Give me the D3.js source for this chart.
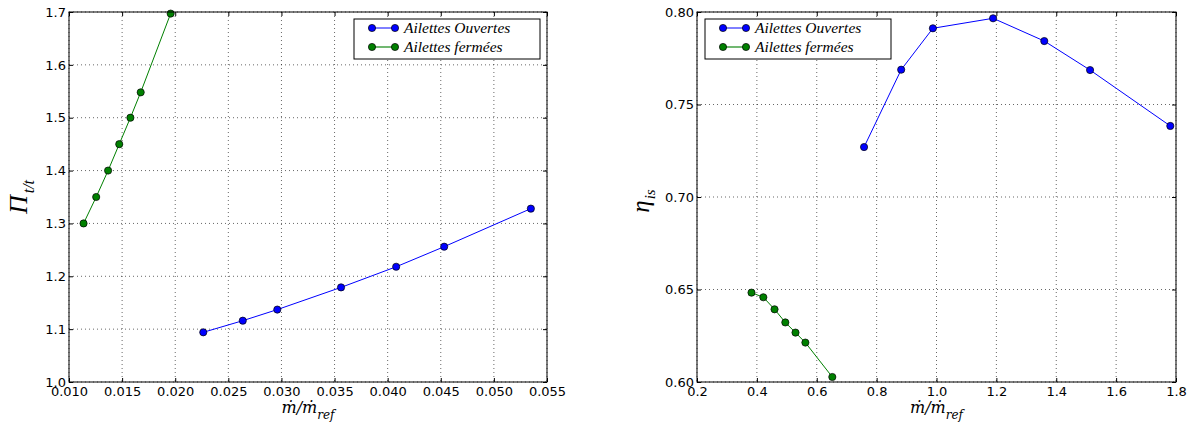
<!DOCTYPE html>
<html><head><meta charset="utf-8">
<script src="https://d3js.org/d3.v7.min.js"></script>
<style>body{margin:0;background:#fff}svg{display:block}</style>
</head><body><svg id="c" width="1195" height="429"></svg>
<script>
// Left panel: pressure ratio vs mass flow
const leftOpenX = [0.02264, 0.02636, 0.02961, 0.03561, 0.0408, 0.04532, 0.05348];
const leftOpenY = [1.094, 1.116, 1.137, 1.179, 1.218, 1.256, 1.328];
const leftClosedX = [0.01137, 0.01256, 0.01368, 0.01473, 0.01578, 0.01675, 0.01957];
const leftClosedY = [1.30, 1.35, 1.40, 1.45, 1.50, 1.548, 1.697];
const leftXTicks = [0.010, 0.015, 0.020, 0.025, 0.030, 0.035, 0.040, 0.045, 0.050, 0.055];
const leftYTicks = [1.0, 1.1, 1.2, 1.3, 1.4, 1.5, 1.6, 1.7];
// Right panel: isentropic efficiency vs mass flow
const rightOpenX = [0.758, 0.882, 0.988, 1.189, 1.360, 1.513, 1.781];
const rightOpenY = [0.727, 0.7688, 0.7912, 0.7966, 0.7843, 0.7686, 0.7384];
const rightClosedX = [0.382, 0.4216, 0.459, 0.495, 0.529, 0.562, 0.652];
const rightClosedY = [0.6483, 0.6458, 0.6393, 0.6322, 0.6267, 0.6213, 0.6027];
const rightXTicks = [0.2, 0.4, 0.6, 0.8, 1.0, 1.2, 1.4, 1.6, 1.8];
const rightYTicks = [0.60, 0.65, 0.70, 0.75, 0.80];
const seriesNames = ["Ailettes Ouvertes", "Ailettes fermées"];
const seriesColors = ["#0000ff", "#008000"];

const svg = d3.select("#c");
const plotTop = 12, plotBottom = 382;

function panel(o) {
  const g = svg.append("g");
  const x = d3.scaleLinear().domain(o.xd).range([o.x0, o.x1]);
  const y = d3.scaleLinear().domain(o.yd).range([plotBottom, plotTop]);
  // grid
  g.selectAll(".gx").data(o.xt).enter().append("line")
    .attr("x1", d => x(d)).attr("x2", d => x(d)).attr("y1", plotTop).attr("y2", plotBottom)
    .attr("stroke", "#000").attr("stroke-width", 0.6).attr("stroke-dasharray", "1,3");
  g.selectAll(".gy").data(o.yt).enter().append("line")
    .attr("y1", d => y(d)).attr("y2", d => y(d)).attr("x1", o.x0).attr("x2", o.x1)
    .attr("stroke", "#000").attr("stroke-width", 0.6).attr("stroke-dasharray", "1,3");
  // axes (inner ticks on all sides)
  const tick = 4;
  const axB = d3.axisBottom(x).tickValues(o.xt).tickFormat(o.xf).tickSizeInner(-tick).tickSizeOuter(0).tickPadding(5);
  const axT = d3.axisTop(x).tickValues(o.xt).tickFormat("").tickSizeInner(-tick).tickSizeOuter(0);
  const axL = d3.axisLeft(y).tickValues(o.yt).tickFormat(o.yf).tickSizeInner(-tick).tickSizeOuter(0).tickPadding(3);
  const axR = d3.axisRight(y).tickValues(o.yt).tickFormat("").tickSizeInner(-tick).tickSizeOuter(0);
  const style = s => { s.select(".domain").remove(); s.selectAll("text").attr("font-family","DejaVu Sans").attr("font-size","13px").attr("fill","#000"); s.selectAll("line").attr("stroke","#000"); };
  g.append("g").attr("transform", `translate(0,${plotBottom})`).call(axB).call(style);
  g.append("g").attr("transform", `translate(0,${plotTop})`).call(axT).call(style);
  g.append("g").attr("transform", `translate(${o.x0},0)`).call(axL).call(style);
  g.append("g").attr("transform", `translate(${o.x1},0)`).call(axR).call(style);
  // series
  const line = d3.line().x(d => x(d[0])).y(d => y(d[1]));
  o.series.forEach((s, i) => {
    const pts = d3.zip(s[0], s[1]);
    g.append("path").datum(pts).attr("d", line).attr("fill", "none")
      .attr("stroke", seriesColors[i]).attr("stroke-width", 1);
    g.selectAll(null).data(pts).enter().append("circle")
      .attr("cx", d => x(d[0])).attr("cy", d => y(d[1])).attr("r", 3.6)
      .attr("fill", seriesColors[i]).attr("stroke", "#000").attr("stroke-width", 0.7);
  });
  // frame
  g.append("rect").attr("x", o.x0).attr("y", plotTop).attr("width", o.x1 - o.x0).attr("height", plotBottom - plotTop)
    .attr("fill", "none").attr("stroke", "#000").attr("stroke-width", 1);
  // legend
  const lg = g.append("g").attr("transform", `translate(${o.lx},19)`);
  lg.append("rect").attr("x", 0).attr("y", 0).attr("width", 186).attr("height", 40)
    .attr("fill", "#fff").attr("stroke", "#000").attr("stroke-width", 1);
  seriesNames.forEach((n, i) => {
    const yy = 9 + i * 19;
    lg.append("line").attr("x1", 18).attr("x2", 41).attr("y1", yy).attr("y2", yy)
      .attr("stroke", seriesColors[i]).attr("stroke-width", i ? 1.6 : 1).attr("stroke-opacity", i ? 0.7 : 1);
    [18, 41].forEach(cx => lg.append("circle").attr("cx", cx).attr("cy", yy).attr("r", 3.6)
      .attr("fill", seriesColors[i]).attr("stroke", "#000").attr("stroke-width", 0.7));
    lg.append("text").attr("x", 50).attr("y", yy + 5).text(n)
      .attr("font-family", "Liberation Serif").attr("font-style", "italic").attr("font-size", "15.5px");
  });
  // x label
  const xl = g.append("text").attr("x", (o.x0 + o.x1) / 2).attr("y", 413).attr("text-anchor", "middle")
    .attr("font-family", "DejaVu Serif").attr("font-style", "italic").attr("font-size", "16px");
  xl.append("tspan").text("ṁ/ṁ");
  xl.append("tspan").attr("font-size", "12px").attr("dy", 6).text("ref");
  // y label
  const yl = g.append("text").attr("transform", `translate(${o.ylx},${o.yly}) rotate(-90)`).attr("text-anchor", "middle")
    .attr("font-family", "Liberation Serif").attr("font-style", "italic").attr("font-size", o.ylsize + "px");
  yl.append("tspan").text(o.ylMain);
  yl.append("tspan").attr("font-size", o.ylsub + "px").attr("dx", o.yldx).attr("dy", o.yldy).text(o.ylSubText);
}

panel({x0: 69, x1: 547, xd: [0.010, 0.055], yd: [1.0, 1.7], xt: leftXTicks, yt: leftYTicks,
  xf: d3.format(".3f"), yf: d3.format(".1f"),
  series: [[leftOpenX, leftOpenY], [leftClosedX, leftClosedY]], lx: 354,
  ylx: 27, yly: 197, ylsize: 26, ylsub: 16, yldx: 2, yldy: 7, ylMain: "Π", ylSubText: "t/t"});
panel({x0: 697, x1: 1176, xd: [0.2, 1.8], yd: [0.60, 0.80], xt: rightXTicks, yt: rightYTicks,
  xf: d3.format(".1f"), yf: d3.format(".2f"),
  series: [[rightOpenX, rightOpenY], [rightClosedX, rightClosedY]], lx: 705,
  ylx: 649, yly: 201, ylsize: 25, ylsub: 15, yldx: 1, yldy: 6, ylMain: "η", ylSubText: "is"});
</script></body></html>
